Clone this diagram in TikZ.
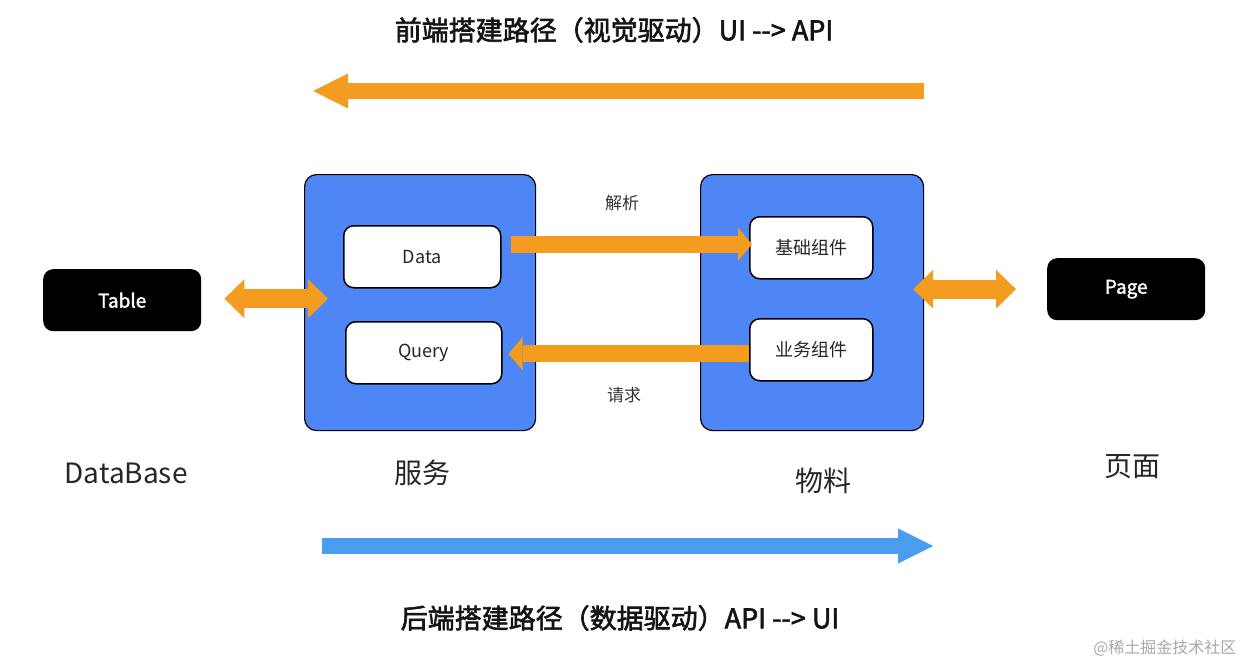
\documentclass[tikz,border=0pt]{standalone}
\usepackage{fontspec}
\setmainfont{Noto Sans CJK SC}
\newfontfamily\semibold{Noto Sans CJK SC}[FakeBold=1.6]
\newfontfamily\medium{Noto Sans CJK SC}[FakeBold=2.2]
\usetikzlibrary{arrows.meta}
\definecolor{org}{HTML}{F39C1F}
\definecolor{boxblue}{HTML}{4F86F5}
\definecolor{arrblue}{HTML}{4A9DEE}
\definecolor{wmgray}{HTML}{A8A8A8}
\newcommand{\arr}{-\kern0pt-\kern0pt>}
\begin{document}
\begin{tikzpicture}[x=1pt,y=-1pt,
  panel/.style={draw=black, line width=1.2pt, fill=boxblue, rounded corners=12pt, anchor=north west, inner sep=0pt},
  item/.style={draw=black, line width=1.5pt, fill=white, rounded corners=10pt, anchor=north west, inner sep=0pt, minimum width=#1, minimum height=62pt, font=\fontsize{18}{20}\selectfont, text=black!85},
  endbox/.style={fill=black, rounded corners=10pt, anchor=north west, inner sep=0pt, minimum width=158pt, minimum height=62pt, text=white, font=\semibold\fontsize{19}{22}\selectfont},
  fatarr/.style={draw=#1, line width=16pt, -{Triangle[length=35pt,width=35pt,line width=0pt]}},
  dblarr/.style={draw=org, line width=19pt, {Triangle[length=20pt,width=39pt,line width=0pt]}-{Triangle[length=20pt,width=39pt,line width=0pt]}},
  inarr/.style={draw=org, line width=17pt, -{Triangle[length=14pt,width=33pt,line width=0pt]}},
  title/.style={font=\medium\fontsize{27}{30}\selectfont, text=black!92},
  caplbl/.style={font=\fontsize{28}{32}\selectfont, text=black!85},
  small/.style={font=\fontsize{17}{20}\selectfont, text=black!80}]
\useasboundingbox (0,0) rectangle (1244,666);
% titles
\node[title] (ttop) at (614,30) {前端搭建路径（视觉驱动）UI \arr{} API};
\node[title] (tbot) at (620,618) {后端搭建路径（数据驱动）API \arr{} UI};
% big arrows
\coordinate (topR) at (924,91);
\coordinate (topL) at (313,91);
\draw[fatarr=org] (topR) -- (topL);
\coordinate (botL) at (322,546);
\coordinate (botR) at (933,546);
\draw[fatarr=arrblue] (botL) -- (botR);
% panels
\node[panel, minimum width=231pt, minimum height=256pt] (svc) at (304,174) {};
\node[panel, minimum width=223pt, minimum height=256pt] (mat) at (700,174) {};
\node[item=157pt] (data) at (343,225) {Data};
\node[item=156pt] (query) at (345,321) {Query};
\node[item=123pt] (jc) at (749,216) {基础组件};
\node[item=123pt] (yw) at (749,318) {业务组件};
\node[endbox] (table) at (43,269) {Table};
\node[endbox] (page) at (1047,258) {Page};
% connectors
\coordinate (tA) at ([xshift=23pt,yshift=1.5pt]table.east);
\coordinate (tB) at ([xshift=24pt]svc.west |- tA);
\draw[dblarr] (tA) -- (tB);
\coordinate (pA) at ([xshift=-11pt]mat.east |- page.east);
\draw[dblarr] (pA) -- ([xshift=-31pt]page.west);
\coordinate (dA) at ([xshift=9pt,yshift=12.5pt]data.east);
\coordinate (dB) at ([xshift=3pt]jc.west |- dA);
\draw[inarr] (dA) -- (dB);
\coordinate (qB) at ([xshift=6pt,yshift=-1pt]query.east);
\coordinate (qA) at (yw.west |- qB);
\draw[inarr] (qA) -- (qB);
% labels
\node[small] (jx) at (622,203) {解析};
\node[small] (qq) at (624,395) {请求};
\node[caplbl] (db) at (126,473) {DataBase};
\node[caplbl] (fw) at (422,473) {服务};
\node[caplbl] (wl) at (823,481) {物料};
\node[caplbl] (ym) at (1132,467) {页面};
\node[font=\fontsize{16}{18}\selectfont, text=wmgray, anchor=east] (wm) at (1240,648) {@稀土掘金技术社区};
\end{tikzpicture}
\end{document}
